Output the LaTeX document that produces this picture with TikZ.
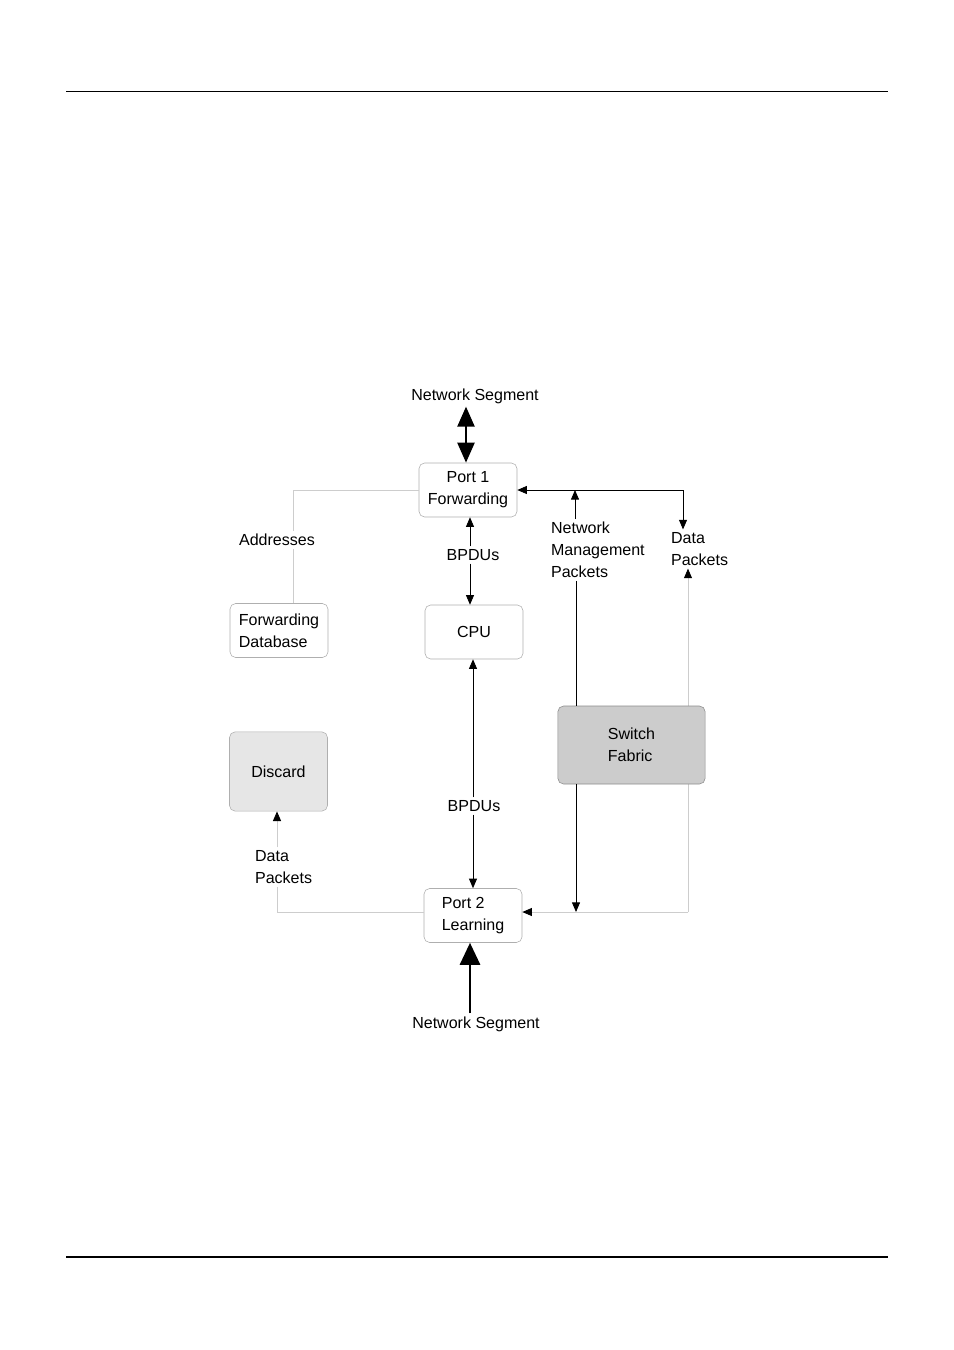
\documentclass[tikz,border=0pt]{standalone}
\usepackage{fontspec}
\setmainfont{Liberation Sans}
\usetikzlibrary{positioning,arrows.meta,calc,backgrounds}
\definecolor{bLine}{RGB}{175,175,175}
\definecolor{gLine}{RGB}{205,205,205}
\definecolor{dFill}{RGB}{230,230,230}
\definecolor{sFill}{RGB}{204,204,204}
\definecolor{sLine}{RGB}{140,140,140}
\tikzset{
  box/.style={rectangle, rounded corners=4pt, draw=bLine, fill=white,
              minimum width=2.45cm, minimum height=1.35cm, align=left, inner sep=2pt},
  dbox/.style={box, fill=dFill, minimum height=1.98cm},
  sbox/.style={box, fill=sFill, draw=sLine, minimum width=3.68cm, minimum height=1.95cm},
  lbl/.style={align=left, inner sep=2pt},
  flow/.style={-{Triangle[length=2.4mm, width=2mm]}, draw=black, line width=0.6pt},
  gflow/.style={-{Triangle[length=2.4mm, width=2mm, color=black]}, draw=gLine, line width=0.6pt},
  gline/.style={draw=gLine, line width=0.6pt},
  fat/.style={-{Triangle[length=5.5mm, width=5mm]}, line width=2pt},
  fatboth/.style={{Triangle[length=5mm, width=4.2mm]}-{Triangle[length=5mm, width=4.2mm]}, line width=2pt},
}

\begin{document}
\begin{tikzpicture}[x=0.025cm, y=-0.025cm, font=\fontsize{11.4}{15.5}\selectfont]
  \useasboundingbox (0,0) rectangle (954,1350);

  % --- page rules ---
  \draw[line width=0.7pt] (66,91) -- (888,91);
  \draw[line width=1.4pt] (66,1257) -- (888,1257);

  % --- ports, cpu, tables ---
  \node[box, align=center] (port1) at (468,490) {Port 1\\Forwarding};
  \node[box] (cpu) at (474,632) {CPU};
  \node[box] (port2) at (473,915.5) {Port 2\\Learning};
  \node[box] (fdb) at (279,630.5) {Forwarding\\Database};
  \node[dbox] (discard) at (278.5,771.5) {Discard};
  \node[sbox] (fabric) at (631.5,745) {Switch\\Fabric};

  % --- labels ---
  \node[lbl] (netTop) at (475,396) {Network Segment};
  \node[lbl] (netBot) at (476,1024) {Network Segment};
  \node[lbl] (lblAddr) at (277,540) {Addresses};
  \node[lbl] (lblBpduA) at (473,555) {BPDUs};
  \node[lbl] (lblBpduB) at (474,806) {BPDUs};
  \node[lbl, anchor=west] (lblMgmt) at (548,550) {Network\\Management\\Packets};
  \node[lbl, anchor=west] (lblDataA) at (668,549) {Data\\Packets};
  \node[lbl, anchor=west] (lblDataB) at (252,867) {Data\\Packets};

  % --- guide lines and junction points ---
  \coordinate (xTop) at (466,0);
  \coordinate (xBot) at (470,0);
  \coordinate (xBpduA) at (470,0);
  \coordinate (xBpduB) at (473,0);
  \coordinate (xDisc) at (277,0);
  \coordinate (tapMgmt) at (575,490);
  \coordinate (tapData) at (683,490);
  \coordinate (dropMgmt) at (576,912);
  \coordinate (dropData) at (688,912);
  \coordinate (addrTop) at ($(lblAddr.north)+(16,0)$);
  \coordinate (addrBot) at ($(lblAddr.south)+(16,0)$);

  % --- network segments ---
  \draw[fatboth] (netTop.south -| xTop) -- (port1.north -| xTop);
  \draw[fat] (netBot.north -| xBot) -- (port2.south -| xBot);

  % --- addresses to forwarding database ---
  \draw[gline] (port1.west) -| (addrTop);
  \draw[gline] (addrBot) -- (addrBot |- fdb.north);

  % --- BPDUs ---
  \draw[flow] (lblBpduA.north -| xBpduA) -- (port1.south -| xBpduA);
  \draw[flow] (lblBpduA.south -| xBpduA) -- (cpu.north -| xBpduA);
  \draw[flow] (lblBpduB.north -| xBpduB) -- (cpu.south -| xBpduB);
  \draw[flow] (lblBpduB.south -| xBpduB) -- (port2.north -| xBpduB);

  % --- management packets ---
  \draw[flow] (lblMgmt.north -| tapMgmt) -- (tapMgmt);
  \draw[flow] (tapData) -- (port1.east |- tapData);
  \draw[flow] (tapData) -- (tapData |- lblDataA.north);
  \draw (lblMgmt.south -| dropMgmt) -- (fabric.north -| dropMgmt);
  \draw[flow] (fabric.south -| dropMgmt) -- (dropMgmt);

  % --- data packets ---
  \begin{scope}[on background layer]
    \draw[gflow] (dropData) -- (dropData |- lblDataA.south);
  \end{scope}
  \draw[gflow] (dropData) -- (dropData -| port2.east);
  \draw[gline] (port2.west |- dropData) -| (lblDataB.south -| xDisc);
  \draw[gflow] (lblDataB.north -| xDisc) -- (discard.south -| xDisc);
\end{tikzpicture}
\end{document}
